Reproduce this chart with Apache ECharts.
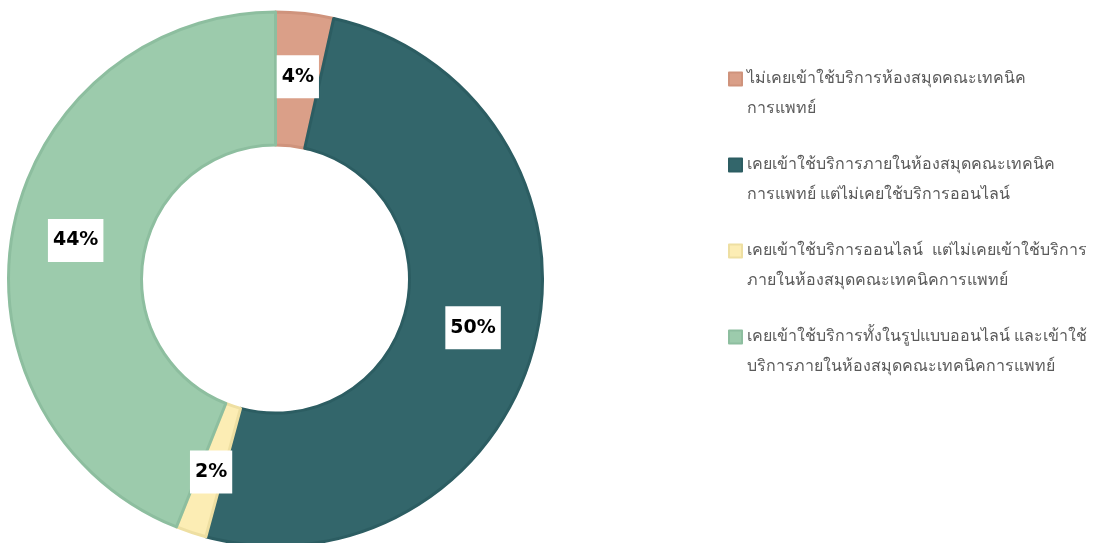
<!DOCTYPE html>
<html>
<head>
<meta charset="utf-8">
<script src="https://cdn.jsdelivr.net/npm/echarts@6/dist/echarts.min.js"></script>
<style>
html,body{margin:0;padding:0;background:#fff;}
#c{width:1096px;height:543px;}
</style>
</head>
<body>
<div id="c"></div>
<script>
var categories = [
  'ไม่เคยเข้าใช้บริการห้องสมุดคณะเทคนิค\nการแพทย์',
  'เคยเข้าใช้บริการภายในห้องสมุดคณะเทคนิค\nการแพทย์ แต่ไม่เคยใช้บริการออนไลน์',
  'เคยเข้าใช้บริการออนไลน์  แต่ไม่เคยเข้าใช้บริการ\nภายในห้องสมุดคณะเทคนิคการแพทย์',
  'เคยเข้าใช้บริการทั้งในรูปแบบออนไลน์ และเข้าใช้\nบริการภายในห้องสมุดคณะเทคนิคการแพทย์'
];
var values = [3.5, 50.7, 1.85, 43.95];
var valueLabels = ['4%', '50%', '2%', '44%'];
var colors = ['#DA9F88', '#33666B', '#FCEDB4', '#9CCBAC'];
var borders = ['#CF937C', '#2C5D62', '#EEDFA2', '#8DBE9F'];

var chart = echarts.init(document.getElementById('c'), null, {renderer: 'canvas'});
var data = categories.map(function (n, i) {
  return {
    name: n,
    value: values[i],
    label: {formatter: valueLabels[i]},
    itemStyle: {color: colors[i], borderColor: borders[i], borderWidth: 3}
  };
});
chart.setOption({
  animation: false,
  legend: {
    orient: 'vertical',
    left: 723,
    top: 29,
    itemWidth: 13,
    itemHeight: 13,
    itemGap: -4,
    icon: 'rect',
    formatter: function (name) { return '\n' + name; },
    textStyle: {
      fontSize: 16,
      lineHeight: 30,
      color: '#5a5a5a',
      fontFamily: 'sans-serif'
    },
    data: categories
  },
  series: [{
    type: 'pie',
    center: [275.5, 279],
    radius: [134, 267],
    startAngle: 90,
    clockwise: true,
    avoidLabelOverlap: false,
    label: {
      show: true,
      position: 'inside',
      color: '#000',
      fontSize: 19,
      fontWeight: 'bold',
      fontFamily: 'DejaVu Sans',
      backgroundColor: '#fff',
      padding: [13, 5, 11, 5]
    },
    labelLine: {show: false},
    emphasis: {disabled: true},
    data: data
  }]
});
</script>
</body>
</html>
